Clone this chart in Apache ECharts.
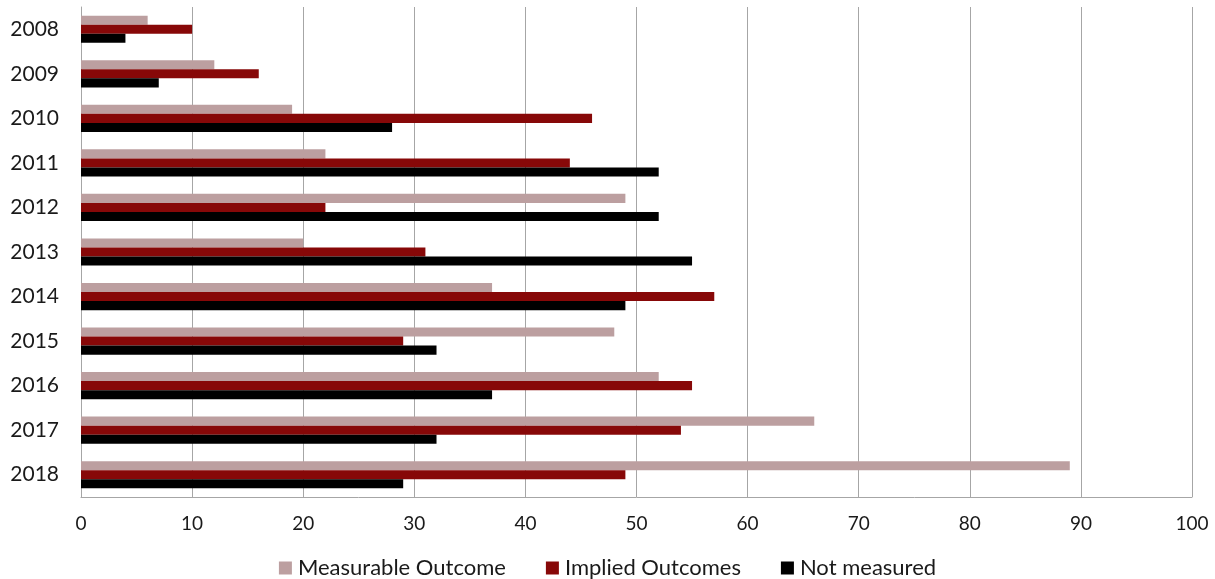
<!DOCTYPE html>
<html>
<head>
<meta charset="utf-8">
<script src="https://cdn.jsdelivr.net/npm/echarts@6/dist/echarts.min.js"></script>
<style>
  html, body { margin: 0; padding: 0; background: #fff; }
  #chart { width: 1215px; height: 579px; }
</style>
</head>
<body>
<div id="chart"></div>
<script>
// Yearly counts by outcome type
const years = ['2008', '2009', '2010', '2011', '2012', '2013', '2014', '2015', '2016', '2017', '2018'];
const measurableOutcome = [6, 12, 19, 22, 49, 20, 37, 48, 52, 66, 89];
const impliedOutcomes = [10, 16, 46, 44, 22, 31, 57, 29, 55, 54, 49];
const notMeasured = [4, 7, 28, 52, 52, 55, 49, 32, 37, 32, 29];
const xTicks = { min: 0, max: 100, interval: 10 };

const font = 'Lato, "Open Sans", sans-serif';
const chart = echarts.init(document.getElementById('chart'));

function barSeries(name, data, color) {
  return {
    name: name,
    type: 'bar',
    data: data,
    barGap: '0%',
    barCategoryGap: '39%',
    itemStyle: { color: color },
    emphasis: { disabled: true }
  };
}

chart.setOption({
  animation: false,
  textStyle: { fontFamily: font },
  grid: { left: 81, right: 23, top: 7, bottom: 82, containLabel: false },
  legend: {
    top: 552,
    left: 'center',
    itemWidth: 13,
    itemHeight: 13,
    itemGap: 40,
    icon: 'rect',
    textStyle: { fontFamily: font, fontSize: 22, color: '#1a1a1a', padding: [0, 0, 0, 1] },
    data: ['Measurable Outcome', 'Implied Outcomes', 'Not measured']
  },
  xAxis: {
    type: 'value',
    min: xTicks.min,
    max: xTicks.max,
    interval: xTicks.interval,
    axisLine: { show: true, lineStyle: { color: '#a6a6a6', width: 1 } },
    axisTick: { show: false },
    axisLabel: { fontFamily: font, fontSize: 19, color: '#1a1a1a', margin: 17 },
    splitLine: { show: true, lineStyle: { color: '#a6a6a6', width: 1 } }
  },
  yAxis: {
    type: 'category',
    data: years,
    inverse: true,
    axisLine: { show: true, lineStyle: { color: '#a6a6a6', width: 1 } },
    axisTick: { show: false },
    axisLabel: { fontFamily: font, fontSize: 21, color: '#1a1a1a', margin: 22 }
  },
  series: [
    barSeries('Measurable Outcome', measurableOutcome, '#bc9fa0'),
    barSeries('Implied Outcomes', impliedOutcomes, '#870808'),
    barSeries('Not measured', notMeasured, '#000000')
  ]
});
</script>
</body>
</html>
